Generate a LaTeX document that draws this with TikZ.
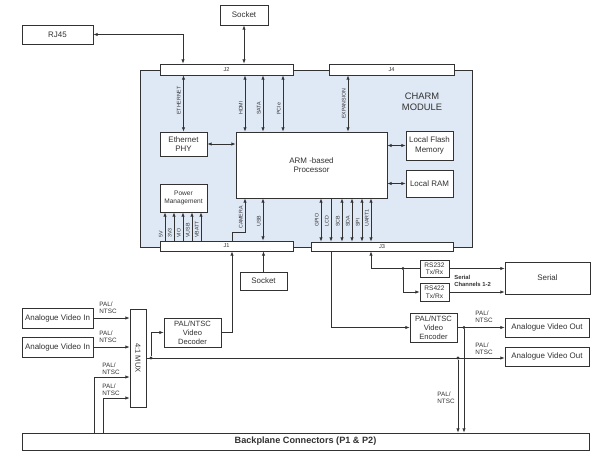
\documentclass[tikz,border=0pt]{standalone}
\usepackage{fontspec}
\setmainfont{Liberation Sans}
\usetikzlibrary{positioning, arrows.meta}

\definecolor{modfill}{RGB}{223,232,245}
\definecolor{ink}{RGB}{50,50,50}

\begin{document}
\begin{tikzpicture}[x=0.3mm, y=-0.3mm, color=ink, line width=0.6pt,
    >={Latex[length=3.6pt,width=2.8pt]}]
    % Define styles
    \def\px{0.3mm}
    \tikzstyle{box} = [draw, fill=white, inner sep=0pt, align=center, font=\fontsize{6.8}{8}\selectfont]
    \tikzstyle{small} = [box, font=\fontsize{5.6}{6.4}\selectfont]
    \tikzstyle{video} = [box, font=\fontsize{6.5}{7.8}\selectfont]
    \tikzstyle{bar} = [draw, fill=white, inner sep=0pt, font=\fontsize{4.8}{5}\selectfont]
    \tikzstyle{sig} = [rotate=90, anchor=south west, inner sep=0.8pt, font=\fontsize{4.5}{5}\selectfont]
    \tikzstyle{pal} = [align=left, inner sep=0pt, font=\fontsize{5.4}{6.2}\selectfont]
    \tikzstyle{dot} = [circle, fill=ink, inner sep=0pt, minimum size=2.6pt]

    \useasboundingbox (0,0) rectangle (602,458);

    % Module and its connectors
    \node[draw, fill=modfill, minimum width=332*\px, minimum height=177*\px] (module) at (306,158.5) {};
    \node[align=center, font=\fontsize{8}{9.6}\selectfont] (charm) at (422,102) {CHARM\\MODULE};
    \node[bar, minimum width=133*\px, minimum height=11*\px] (j2) at (226.5,69.5) {J2};
    \node[bar, minimum width=125*\px, minimum height=11*\px] (j4) at (391.5,69.5) {J4};
    \node[bar, minimum width=133*\px, minimum height=10*\px] (j1) at (226.5,246) {J1};
    \node[bar, minimum width=142*\px, minimum height=9*\px] (j3) at (382,246.5) {J3};

    % Blocks inside the module
    \node[box, minimum width=47*\px, minimum height=24*\px] (ethphy) at (183.5,144) {Ethernet\\PHY};
    \node[box, minimum width=151*\px, minimum height=66*\px] (arm) at (311.5,165) {ARM -based\\Processor};
    \node[small, minimum width=47*\px, minimum height=28*\px] (power) at (183.5,198) {Power\\Management};
    \node[box, minimum width=47*\px, minimum height=29*\px] (flash) at (429.5,145.5) {Local Flash\\Memory};
    \node[box, minimum width=47*\px, minimum height=27*\px] (ram) at (429.5,183.5) {Local RAM};

    % Blocks outside the module
    \node[box, minimum width=48*\px, minimum height=20*\px] (sockettop) at (244,15) {Socket};
    \node[box, minimum width=71*\px, minimum height=19*\px] (rj45) at (57.5,34.5) {RJ45};
    \node[box, minimum width=47*\px, minimum height=18*\px] (socketbot) at (263.5,281) {Socket};
    \node[small, minimum width=29*\px, minimum height=17*\px] (rs232) at (434.5,268.5) {RS232\\Tx/Rx};
    \node[small, minimum width=29*\px, minimum height=18*\px] (rs422) at (434.5,292) {RS422\\Tx/Rx};
    \node[box, minimum width=85*\px, minimum height=32*\px] (serial) at (547.5,278) {Serial};
    \node[video, minimum width=47*\px, minimum height=29*\px] (encoder) at (433.5,327.5) {PAL/NTSC\\Video\\Encoder};
    \node[box, minimum width=84*\px, minimum height=19*\px] (avout1) at (547,327.5) {Analogue Video Out};
    \node[box, minimum width=84*\px, minimum height=19*\px] (avout2) at (547,356.5) {Analogue Video Out};
    \node[box, minimum width=71*\px, minimum height=20*\px] (avin1) at (57.5,318) {Analogue Video In};
    \node[box, minimum width=71*\px, minimum height=20*\px] (avin2) at (57.5,347) {Analogue Video In};
    \node[box, minimum width=16*\px, minimum height=98*\px] (mux) at (138,358) {};
    \node[rotate=-90, font=\fontsize{6.4}{7}\selectfont] (muxtext) at (mux.center) {4:1 MUX};
    \node[video, minimum width=57*\px, minimum height=29*\px] (decoder) at (192.5,332.5) {PAL/NTSC\\Video\\Decoder};
    \node[box, minimum width=567*\px, minimum height=17*\px, font=\bfseries\fontsize{7.8}{9}\selectfont] (backplane) at (305.5,441.5) {Backplane Connectors (P1 \& P2)};

    % Top side: J2 and J4
    \draw[<->] (183,0 |- j2.north) |- (rj45.east);
    \draw[<->] (sockettop.south) -- (sockettop.south |- j2.north);
    \draw[<->] (ethphy.north |- j2.south) -- (ethphy.north);
    \node[sig] at (182,116) {ETHERNET};
    \foreach \x/\label in {245/HDMI, 263/SATA, 283/PCIe} {
        \draw[<->] (\x,0 |- j2.south) -- (\x,0 |- arm.north);
        \node[sig] at (\x-1,116) {\label};
    }
    \draw[<->] (348,0 |- j4.south) -- (348,0 |- arm.north);
    \node[sig] at (347,120) {EXPANSION};

    % Processor to local blocks
    \draw[<->] (ethphy.east) -- (ethphy.east -| arm.west);
    \draw[<->] (arm.east |- flash.west) -- (flash.west);
    \draw[<->] (arm.east |- ram.west) -- (ram.west);

    % Bottom side: J1
    \foreach \x/\label in {165/5V, 174/3V3, 183/VIO, 192/VUSB, 201/VBATT} {
        \draw[->] (\x,0 |- j1.north) -- (\x,0 |- power.south);
        \node[sig] at (\x-1,239) {\label};
    }
    \draw[->] (232,0 |- j1.north) -- (232,232) -| (245,0 |- arm.south);
    \node[sig] at (244,230) {CAMERA};
    \draw[<->] (263,0 |- j1.north) -- (263,0 |- arm.south);
    \node[sig] at (262,228) {USB};

    % Bottom side: J3
    \foreach \x/\label in {321/GPIO, 342/SCB, 352/SDA, 362/SPI, 371/UART1} {
        \draw[<->] (\x,0 |- j3.north) -- (\x,0 |- arm.south);
        \node[sig] at (\x-1,228) {\label};
    }
    \draw[->] (331,0 |- arm.south) -- (331,0 |- j3.north);
    \node[sig] at (330,228) {LCD};

    % Serial channels
    \node[dot] (sj) at (403,0 |- rs232.west) {};
    \draw[<-] (371,0 |- j3.south) |- (rs232.west);
    \draw[->] (sj) |- (rs422.west);
    \draw[->] (rs232.east) -- (rs232.east -| serial.west);
    \draw[->] (rs422.east) -- (rs422.east -| serial.west);
    \node[pal, anchor=west, font=\bfseries\fontsize{5}{6.6}\selectfont] (chan) at (454,281) {Serial\\Channels 1-2};

    % Video out
    \draw[->] (331,0 |- j3.south) |- (encoder.west);
    \node[dot] (ej) at (464,0 |- encoder.east) {};
    \draw[->] (encoder.east) -- (encoder.east -| avout1.west);
    \draw[->] (ej) -- (ej |- backplane.north);
    \node[pal] at (484,317) {PAL/\\NTSC};

    % Video in and MUX
    \draw[->] (avin1.east) -- (avin1.east -| mux.west);
    \node[pal] at (108,308) {PAL/\\NTSC};
    \draw[->] (avin2.east) -- (avin2.east -| mux.west);
    \node[pal] at (108,337) {PAL/\\NTSC};
    \draw[->] (94,0 |- backplane.north) |- (mux.west |- 0,377);
    \node[pal] at (111,369) {PAL/\\NTSC};
    \draw[->] (103,0 |- backplane.north) |- (mux.west |- 0,398);
    \node[pal] at (111,390) {PAL/\\NTSC};

    % MUX output
    \node[dot] (mj) at (151,0 |- mux.east) {};
    \node[dot] (aj) at (458,0 |- mux.east) {};
    \draw[->] (mux.east) -- (mux.east -| avout2.west);
    \draw[->] (mj) |- (decoder.west);
    \draw[->] (aj) -- (aj |- backplane.north);
    \node[pal] at (484,349) {PAL/\\NTSC};
    \node[pal] at (446,398) {PAL/\\NTSC};
    \draw[->] (decoder.east) -| (232,0 |- j1.south);
    \draw[->] (socketbot.north) -- (socketbot.north |- j1.south);
\end{tikzpicture}
\end{document}
